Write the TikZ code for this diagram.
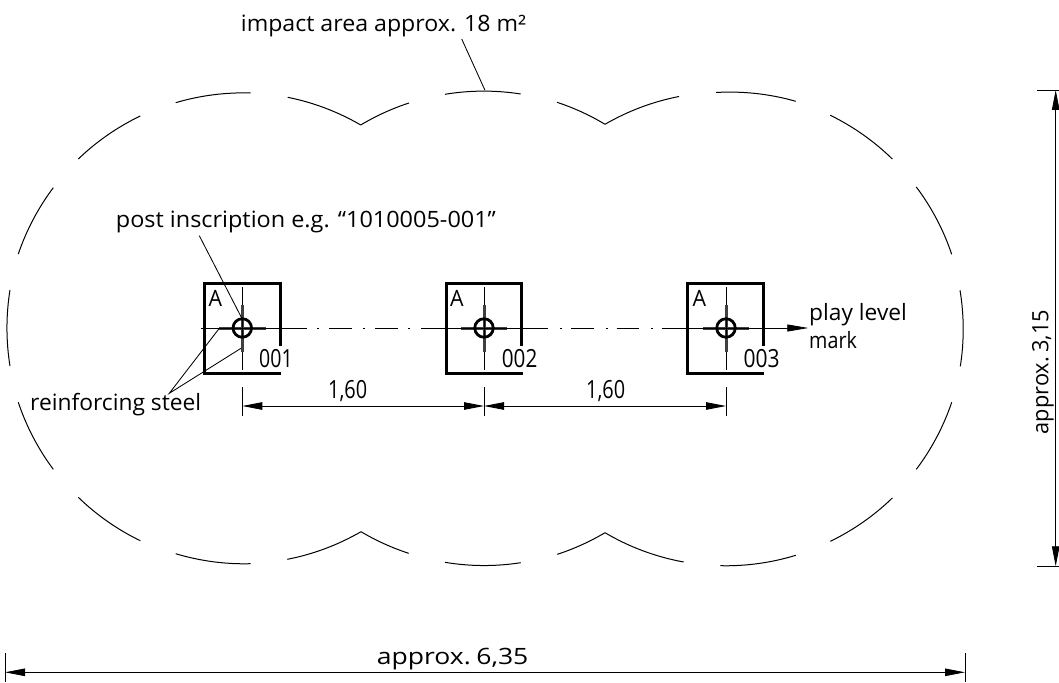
\documentclass[tikz,border=0pt]{standalone}
\usepackage{fontspec}
\usepackage{graphicx}
\setmainfont{Open Sans}
\usetikzlibrary{arrows.meta}
\newsavebox\fitbox
\newcommand\fitw[2]{\sbox\fitbox{#2}%
  \pgfmathsetmacro\fitratio{#1/(\wd\fitbox/1pt)}%
  \scalebox{\fitratio}[1]{\usebox\fitbox}}
\newcommand\seg[4]{%
  \pgfmathsetmacro\segang{asin(veclen(#3-#1,#4-#2)/472)}%
  \draw[outline] (#1,#2) to[bend left=\segang,looseness=.85] (#3,#4);}
\tikzset{
  outline/.style={line width=1pt,black},
  thin line/.style={line width=.85pt,black},
  post wall/.style={line width=3pt,black,line cap=butt,line join=miter},
  steel bar/.style={line width=3pt,black!75},
  ring/.style={draw,circle,line width=2.8pt,minimum size=18.5pt,inner sep=0pt},
  dim/.style={thin line,{Triangle[length=20pt,width=7.5pt]}-{Triangle[length=20pt,width=7.5pt]}},
  lab/.style={inner sep=0pt,anchor=base west,font=\fontsize{22.5}{22}\selectfont},
  big/.style={inner sep=0pt,anchor=base west,font=\fontsize{25}{24}\selectfont},
}
\begin{document}
\begin{tikzpicture}[x=1pt,y=-1pt]
\useasboundingbox (0,0) rectangle (1059,682);
% impact area outline
\seg{10}{366}{10}{290}
\seg{18.3}{254}{53.3}{187.7}
\seg{78.3}{159}{140.3}{116}
\seg{175.7}{102.7}{250.7}{93}
\seg{287.7}{97.3}{360.7}{125}
\seg{360.7}{125}{409}{103}
\seg{445}{94.3}{520.7}{94}
\seg{557}{102.3}{605}{124.3}
\seg{605}{124.3}{679}{96.5}
\seg{716}{92.5}{795.7}{101.3}
\seg{830.3}{115.3}{892.3}{159}
\seg{916.3}{187}{951.7}{254.3}
\seg{960}{290.3}{960.3}{366.3}
\seg{951.7}{402.3}{916.3}{469.3}
\seg{892.3}{498}{830.3}{541.3}
\seg{795.7}{555.3}{720.3}{565.7}
\seg{683.7}{562}{605}{532.7}
\seg{605}{532.7}{557.3}{554.3}
\seg{520.7}{562.7}{445}{562.3}
\seg{408.7}{553.3}{361}{531.7}
\seg{361}{531.7}{287.3}{559.3}
\seg{250.7}{563.7}{175.7}{553.7}
\seg{140.3}{540.7}{78.3}{497.3}
\seg{53.3}{469.3}{18.3}{402.3}
% posts
\foreach \cx/\l/\r/\nm/\ax/\nx/\nw in {242.3/204/280/001/208.3/259/33.5,484/446/521.7/002/450/501.7/35.5,726/687.7/763.3/003/692.3/743.3/36}{
  \draw[post wall] (\r,345.5) -- (\r,283) -- (\l,283) -- (\l,373.7) -- (\r+1,373.7);
  \draw[thin line] (\cx,287.3) -- (\cx,370);
  \draw[steel bar] (\cx,305) -- (\cx,351.7);
  \draw[steel bar] (\cx-23.3,328) -- (\cx+23.3,328);
  \draw[thin line] (\cx-23.3,328) -- (\cx+23.3,328);
  \node[ring] (post\nm) at (\cx,328) {};
  \draw[thin line] (\cx,319) -- (\cx,337);
  \node[lab] (a\nm) at (\ax,306.7) {\fitw{13.5}{A}};
  \node[big] (n\nm) at (\nx,367.7) {\fitw{\nw}{\nm}};
}
% centre line
\draw[thin line] (201.3,328) -- (306.7,328);
\foreach \s in {317,362.7,408.4,560.3,605.7,651}{\draw[thin line] (\s,328) -- (\s+2,328);}
\foreach \s/\e in {329/352,375/398,421/548.3,571/593.7,616.7/639.3}{\draw[thin line] (\s,328) -- (\e,328);}
\coordinate (cl0) at (661.7,328);
\coordinate (cl1) at (808.3,328);
\draw[thin line,-{Triangle[length=21pt,width=7pt]}] (cl0) -- (cl1);
% leaders
\coordinate (l1a) at (199.3,235.7); \coordinate (l1b) at (241.7,318);
\draw[thin line] (l1a) -- (l1b);
\coordinate (l2) at (169.3,393.3); \coordinate (l2a) at (219,328.7); \coordinate (l2b) at (241,348.3);
\draw[thin line] (l2a) -- (l2) -- (l2b);
\coordinate (l3a) at (461.7,39); \coordinate (l3b) at (485,90.3);
\draw[thin line] (l3a) -- (l3b);
% dimension 1,60
\coordinate (d0) at (242.3,406); \coordinate (d1) at (484,406); \coordinate (d2) at (726,406);
\foreach \p in {d0,d1,d2}{\draw[thin line] (\p)+(0,-19) -- +(0,9.7);}
\draw[dim] (d0) -- (d1);
\draw[dim] (d1) -- (d2);
% overall length
\coordinate (h0) at (5,672.3); \coordinate (h1) at (965,672.3);
\foreach \p in {h0,h1}{\draw[thin line] (\p)+(0,-19) -- +(0,10);}
\draw[dim] (h0) -- (h1);
% overall width
\coordinate (v0) at (1055.7,90); \coordinate (v1) at (1055.7,566.3);
\foreach \p in {v0,v1}{\draw[thin line] (\p)+(-18.7,0) -- +(4,0);}
\draw[dim] (v0) -- (v1);
% texts
\node[lab] (t1) at (240.7,32) {\fitw{285.3}{impact area approx. 18 m²}};
\node[lab] (t2) at (115.7,227.7) {\fitw{380}{post inscription e.g. “1010005-001”}};
\node[lab] (t3) at (30,410) {\fitw{171}{reinforcing steel}};
\node[big] (t4) at (328,398.3) {\fitw{39}{1,60}};
\node[big] (t5) at (586,398.3) {\fitw{39}{1,60}};
\node[lab] (t6) at (809,320) {\fitw{97.7}{play level}};
\node[lab] (t7) at (809,348.3) {\fitw{47.7}{mark}};
\node[lab] (t8) at (376.7,664) {\fitw{151.5}{\spaceskip=.12em approx. 6,35}};
\node[lab,rotate=90] (t9) at (1048.3,434.3) {\fitw{124.3}{\spaceskip=.12em approx. 3,15}};
\end{tikzpicture}
\end{document}
